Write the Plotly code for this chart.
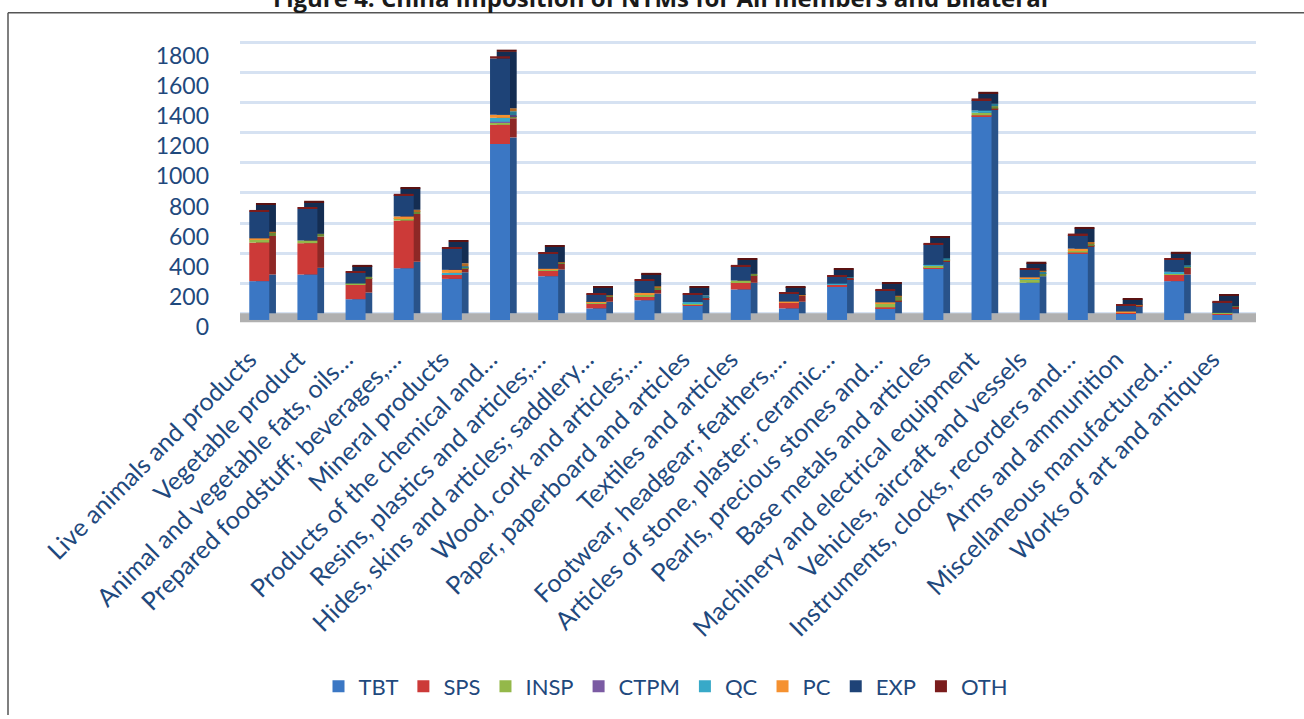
import plotly.graph_objects as go
import numpy as np

categories = [
    "Live animals and products",
    "Vegetable product",
    "Animal and vegetable fats, oils…",
    "Prepared foodstuff; beverages,…",
    "Mineral products",
    "Products of the chemical and…",
    "Resins, plastics and articles;…",
    "Hides, skins and articles; saddlery…",
    "Wood, cork and articles;…",
    "Paper, paperboard and articles",
    "Textiles and articles",
    "Footwear, headgear; feathers,…",
    "Articles of stone, plaster; ceramic…",
    "Pearls, precious stones and…",
    "Base metals and articles",
    "Machinery and electrical equipment",
    "Vehicles, aircraft and vessels",
    "Instruments, clocks, recorders and…",
    "Arms and ammunition",
    "Miscellaneous manufactured…",
    "Works of art and antiques",
]

TBT  = [258, 302, 138, 343, 273, 1169, 291, 77, 131, 94, 203, 77, 225, 77, 343, 1355, 247, 442, 44, 258, 33]
SPS  = [256, 208, 96, 317, 28, 127, 37, 33, 26, 8, 48, 39, 11, 7, 6, 5, 0, 6, 8, 44, 10]
INSP = [20, 18, 8, 17, 4, 15, 8, 6, 12, 6, 11, 0, 0, 26, 11, 17, 20, 15, 0, 10, 4]
CTPM = [0, 0, 0, 0, 0, 6, 0, 0, 0, 0, 0, 0, 0, 0, 0, 0, 0, 0, 0, 0, 0]
QC   = [3, 0, 0, 0, 8, 26, 0, 0, 0, 11, 0, 0, 5, 0, 6, 15, 10, 0, 0, 8, 0]
PC   = [5, 0, 0, 11, 20, 20, 4, 4, 11, 0, 0, 6, 0, 7, 0, 0, 6, 11, 4, 0, 0]
EXP  = [179, 210, 72, 142, 142, 374, 103, 50, 81, 50, 94, 52, 50, 81, 136, 68, 50, 90, 37, 79, 72]
OTH  = [10, 10, 8, 8, 8, 15, 8, 8, 8, 8, 10, 8, 8, 8, 10, 12, 10, 10, 8, 10, 8]

series_names = ["TBT", "SPS", "INSP", "CTPM", "QC", "PC", "EXP", "OTH"]
series_values = [TBT, SPS, INSP, CTPM, QC, PC, EXP, OTH]
front_colors = ["#3b77c4", "#cc3a38", "#94b84a", "#7b5ba3", "#38a9c8", "#f59130", "#1e4377", "#7a1c1c"]
side_colors = ["#29538a", "#8e2826", "#6a8633", "#56407a", "#287b93", "#b26822", "#142d52", "#5a1212"]

y_ticks = [0, 200, 400, 600, 800, 1000, 1200, 1400, 1600, 1800]

# layout geometry (pixels)
W, H = 1304, 719
L, R = 240, 48
T_px, B_px = 33.7, 333.2
plot_w = W - L - R
plot_h = B_px - T_px
x_range = [-0.4, 20.7]
y_range = [-60, 1900]
unit_px = 275 / 1800            # pixels per data unit
depth_y = 44      # pseudo-3D depth in data units (~6.7 px)
depth_x = 0.139   # pseudo-3D depth in category units (~6.7 px)
bar_w = 0.415

# tick-label axis for y (labels sit a little below the front-face scale)
y_lab_r0 = -(B_px - 331) / unit_px
y_lab_range = [y_lab_r0, y_lab_r0 + plot_h / unit_px]

def px_x(p):
    return (p - L) / plot_w

def px_y(p):
    return (B_px - p) / plot_h

xs = list(range(len(categories)))
fig = go.Figure()

cum = np.zeros(len(categories))
bases = []
for vals in series_values:
    bases.append(cum.copy())
    cum = cum + np.array(vals)

# side/top faces (drawn first, shifted right and up)
for name, vals, base, col in zip(series_names, series_values, bases, side_colors):
    fig.add_trace(go.Bar(
        x=xs, y=vals, base=base + depth_y, width=bar_w, offset=-bar_w / 2 + depth_x,
        marker=dict(color=col, line=dict(width=0)), showlegend=False, hoverinfo="skip",
    ))
# front faces
for name, vals, base, col in zip(series_names, series_values, bases, front_colors):
    fig.add_trace(go.Bar(
        x=xs, y=vals, base=base, width=bar_w, offset=-bar_w / 2, name=name,
        marker=dict(color=col, line=dict(width=0)),
    ))

# helper traces so the overlay axes are drawn
fig.add_trace(go.Scatter(x=xs, y=[None] * len(xs), yaxis="y2", showlegend=False, hoverinfo="skip"))
fig.add_trace(go.Scatter(x=xs, y=[None] * len(xs), yaxis="y3", showlegend=False, hoverinfo="skip"))

txt_col = "#1f497d"
fig.update_layout(
    width=W, height=H,
    margin=dict(l=L, r=R, t=T_px, b=H - B_px),
    barmode="overlay",
    plot_bgcolor="white", paper_bgcolor="white",
    font=dict(family="Lato", color=txt_col),
    xaxis=dict(
        range=x_range, tickmode="array", tickvals=xs, ticktext=categories,
        tickangle=-45, showgrid=False, zeroline=False, showline=False, ticks="",
        tickfont=dict(size=25, color=txt_col, family="Lato"),
        ticklabelstandoff=10, ticklabelshift=-10, automargin=False,
    ),
    yaxis=dict(
        range=y_range, showticklabels=False, showgrid=False, zeroline=False,
        showline=False, ticks="", automargin=False,
    ),
    yaxis2=dict(
        range=[y_range[0] - depth_y, y_range[1] - depth_y], overlaying="y", side="right",
        tickmode="array", tickvals=y_ticks, showticklabels=False,
        showgrid=True, gridcolor="#d6e2f2", gridwidth=3, zeroline=False, showline=False,
        ticks="", automargin=False,
    ),
    yaxis3=dict(
        range=y_lab_range, overlaying="y", side="left", anchor="x",
        tickmode="array", tickvals=y_ticks, showgrid=False, zeroline=False,
        showline=False, ticks="", automargin=False,
        tickfont=dict(size=23, color=txt_col, family="Lato"),
        ticklabelstandoff=30,
    ),
    legend=dict(
        orientation="h", x=px_x(666), xanchor="center", y=px_y(696), yanchor="middle",
        font=dict(size=22, color=txt_col, family="Lato"), traceorder="normal",
        bgcolor="rgba(0,0,0,0)",
    ),
    showlegend=True,
)

# floor slab
fig.add_shape(type="rect", xref="x", yref="y", x0=-0.45, x1=20.75, y0=-15, y1=45,
              fillcolor="#b0b0b0", line=dict(width=0), layer="between")

# chart border (left and top edges visible)
fig.add_shape(type="line", xref="paper", yref="paper", x0=px_x(8), x1=px_x(8),
              y0=px_y(12), y1=px_y(725), line=dict(color="#555555", width=1.5))
fig.add_shape(type="line", xref="paper", yref="paper", x0=px_x(8), x1=px_x(1310),
              y0=px_y(12), y1=px_y(12), line=dict(color="#555555", width=1.5))

# title (partly cut off at top, as in the reference)
fig.add_annotation(
    text="<b>Figure 4: China imposition of NTMs for All members and Bilateral</b>",
    xref="paper", yref="paper", x=px_x(660), y=px_y(-3), xanchor="center", yanchor="middle",
    showarrow=False, font=dict(size=24, color="#1a1a1a", family="Open Sans"),
)

fig.write_html("out.html")
